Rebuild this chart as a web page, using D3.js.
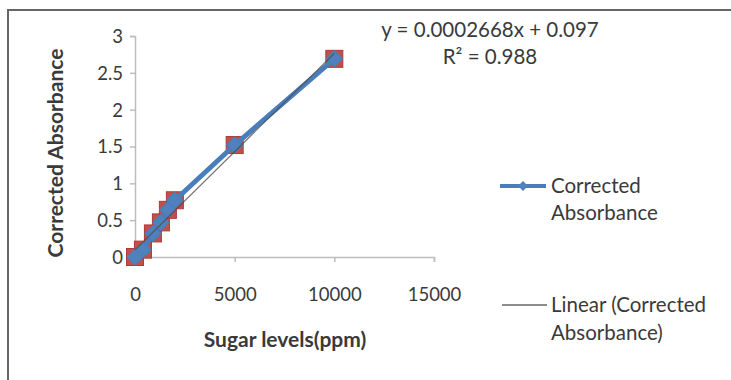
<!DOCTYPE html>
<html><head><meta charset="utf-8">
<script src="https://cdn.jsdelivr.net/npm/d3@7"></script>
<style>
html,body{margin:0;padding:0;background:#fff;overflow:hidden;}
text{font-family:Lato,"Open Sans",sans-serif;fill:#3a3a3a;}
</style></head><body>
<svg id="c" width="731" height="380"></svg>
<script>
const sugarPpm = [0, 400, 900, 1300, 1650, 2000, 5000, 10000];
const absorbance = [0, 0.1, 0.32, 0.47, 0.64, 0.77, 1.52, 2.69];
const xTicks = [0, 5000, 10000, 15000];
const yTicks = [0, 0.5, 1, 1.5, 2, 2.5, 3];
const slope = 0.0002668, intercept = 0.097;
const eqLabel = "y = 0.0002668x + 0.097";
const r2Label = "R² = 0.988";

const svg = d3.select("#c");
svg.append("rect").attr("x",8).attr("y",10).attr("width",760).attr("height",400)
  .attr("fill","#fff").attr("stroke","#666").attr("stroke-width",2);

const x = d3.scaleLinear().domain([0,15000]).range([135,434]);
const y = d3.scaleLinear().domain([0,3]).range([257,36]);
const axisColor = "#bdbdbd";

const gx = svg.append("g").attr("transform","translate(0,257)")
  .call(d3.axisBottom(x).tickValues(xTicks).tickSize(5).tickPadding(26).tickFormat(d3.format("d")));
const gy = svg.append("g").attr("transform","translate(135,0)")
  .call(d3.axisLeft(y).tickValues(yTicks).tickSize(5).tickPadding(7).tickFormat(d=>String(d)));
[gx,gy].forEach(g=>{
  g.select(".domain").attr("stroke",axisColor).attr("stroke-width",1.5);
  g.selectAll(".tick line").attr("stroke",axisColor).attr("stroke-width",1.5);
  g.selectAll(".tick text").attr("font-size",18.5).attr("font-family","Lato").attr("fill","#3a3a3a");
});
gy.selectAll(".tick text").attr("dy","0.35em");

svg.append("text").attr("x",285).attr("y",347).attr("text-anchor","middle")
  .attr("font-size",21).attr("font-weight","bold").text("Sugar levels(ppm)");
svg.append("text").attr("transform","translate(63,153) rotate(-90)").attr("text-anchor","middle")
  .attr("font-size",21).attr("font-weight","bold").text("Corrected Absorbance");

const pts = sugarPpm.map((v,i)=>[v,absorbance[i]]);
// red square markers
svg.append("g").selectAll("rect").data(pts).join("rect")
  .attr("x",d=>x(d[0])-8.5).attr("y",d=>y(d[1])-8.5).attr("width",17).attr("height",17)
  .attr("fill","#c0504d").attr("stroke","#b03a36").attr("stroke-width",1);
// series line
const line = d3.line().x(d=>x(d[0])).y(d=>y(d[1]));
svg.append("path").datum(pts).attr("d",line).attr("fill","none")
  .attr("stroke","#4a7ebb").attr("stroke-width",5).attr("stroke-linejoin","round");
// diamonds
const diamond = d3.symbol().type(d3.symbolSquare).size(130);
svg.append("g").selectAll("path").data(pts).join("path")
  .attr("d",diamond).attr("transform",d=>`translate(${x(d[0])},${y(d[1])}) rotate(45)`)
  .attr("fill","#4f81bd").attr("stroke","#4a7ebb");
// trendline
const tr = [[0,intercept],[10000,slope*10000+intercept]];
svg.append("path").datum(tr).attr("d",line).attr("fill","none")
  .attr("stroke","#4a4a4a").attr("stroke-width",1.2).attr("opacity",0.8);

// equation
svg.append("text").attr("x",490).attr("y",37).attr("text-anchor","middle").attr("font-size",20.5).text(eqLabel);
svg.append("text").attr("x",490).attr("y",64).attr("text-anchor","middle").attr("font-size",20.5).text(r2Label);

// legend
const lg = svg.append("g");
lg.append("line").attr("x1",500).attr("x2",546).attr("y1",186).attr("y2",186)
  .attr("stroke","#4a7ebb").attr("stroke-width",4);
lg.append("path").attr("d",d3.symbol().type(d3.symbolSquare).size(50)).attr("transform","translate(523,186) rotate(45)")
  .attr("fill","#4f81bd");
lg.append("text").attr("x",551).attr("y",193).attr("font-size",20.5).text("Corrected");
lg.append("text").attr("x",551).attr("y",220).attr("font-size",20.5).text("Absorbance");
lg.append("line").attr("x1",502).attr("x2",547).attr("y1",305).attr("y2",305)
  .attr("stroke","#8c8c8c").attr("stroke-width",1.8);
lg.append("text").attr("x",551).attr("y",312).attr("font-size",20.5).text("Linear (Corrected");
lg.append("text").attr("x",551).attr("y",340).attr("font-size",20.5).text("Absorbance)");
</script></body></html>
